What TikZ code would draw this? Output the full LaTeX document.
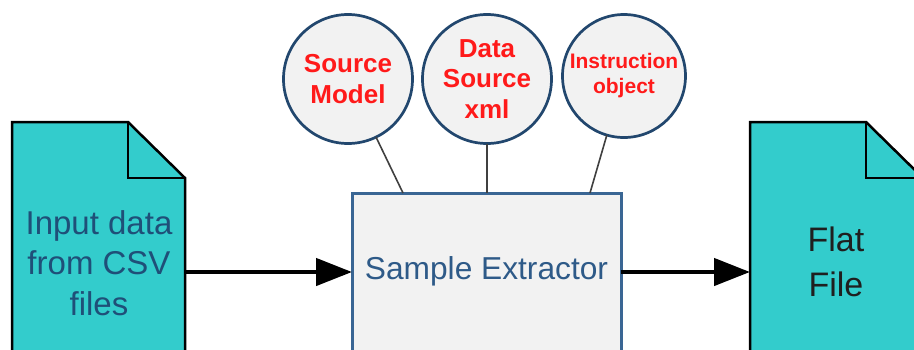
\documentclass[tikz,border=0pt]{standalone}
\usepackage{fontspec}
\setmainfont{Liberation Sans}
\usetikzlibrary{arrows.meta,calc}
\definecolor{docfill}{HTML}{33CCCC}
\definecolor{lightfill}{HTML}{F2F2F2}
\definecolor{circborder}{HTML}{22476E}
\definecolor{boxborder}{HTML}{3A6694}
\definecolor{boxtext}{HTML}{2E5A88}
\definecolor{doctext}{HTML}{1F4F78}
\definecolor{redtext}{HTML}{FF1A1A}
\definecolor{conncol}{HTML}{404040}
\tikzset{
  docshape/.style={fill=docfill, draw=black, line width=2.5pt, line join=miter},
  docarea/.style={inner sep=0pt, outer sep=0pt, anchor=north west},
  srccircle/.style={circle, fill=lightfill, draw=circborder, line width=2.7pt, inner sep=0pt, outer sep=0pt, align=center, text=redtext, font=\bfseries},
  procbox/.style={rectangle, fill=lightfill, draw=boxborder, line width=3pt, inner sep=0pt, outer sep=0pt, anchor=north west},
  conn/.style={draw=conncol, line width=1.6pt},
  flowarrow/.style={draw=black, line width=4.5pt, -{Triangle[length=36pt,width=27pt]}},
}
\begin{document}
\begin{tikzpicture}[x=1pt,y=-1pt]
\clip (0,0) rectangle (914,349);
\fill[white] (0,0) rectangle (914,349);
% invisible areas for documents
\node[docarea, minimum width=173pt, minimum height=250pt] (input) at (12,122) {};
\node[docarea, minimum width=173pt, minimum height=250pt] (flat) at (750,122) {};
% document shapes
\path[docshape] (input.north west) -- ([xshift=-57pt]input.north east) -- ([yshift=-56pt]input.north east) -- (input.south east) -- (input.south west) -- cycle;
\draw[line width=2.5pt, line join=miter] ([xshift=-57pt]input.north east) -- ([xshift=-57pt,yshift=-56pt]input.north east) -- ([yshift=-56pt]input.north east);
\path[docshape] (flat.north west) -- ([xshift=-57pt]flat.north east) -- ([yshift=-56pt]flat.north east) -- (flat.south east) -- (flat.south west) -- cycle;
\draw[line width=2.5pt, line join=miter] ([xshift=-57pt]flat.north east) -- ([xshift=-57pt,yshift=-56pt]flat.north east) -- ([yshift=-56pt]flat.north east);
% texts in documents
\node[align=center, text=doctext, font=\fontsize{33}{40.5}\selectfont] (inputtext) at (99,263) {Input data\\from CSV\\files};
\node[align=center, text=black!88, font=\fontsize{34}{45}\selectfont] (flattext) at (836,262) {Flat\\File};
% process box
\node[procbox, minimum width=269pt, minimum height=200pt] (box) at (352,193) {};
\node[text=boxtext, font=\fontsize{31.7}{36}\selectfont] (sample) at (486.5,271) {Sample Extractor};
% circles
\node[srccircle, minimum size=129pt, font=\bfseries\fontsize{26}{30.5}\selectfont] (c1) at (348,79) {Source\\Model};
\node[srccircle, minimum size=129pt, font=\bfseries\fontsize{26}{30.5}\selectfont] (c2) at (487,79) {Data\\Source\\xml};
\node[srccircle, minimum size=123pt, font=\bfseries\fontsize{21}{25}\selectfont] (c3) at (624,76) {Instruction\\object};
% connectors
\draw[conn] (c1) -- ([xshift=51pt]box.north west);
\draw[conn] (c2) -- (c2 |- box.north);
\draw[conn] (c3) -- ([xshift=-31pt]box.north east);
% arrows
\draw[flowarrow] (input.east |- 0,272) -- (box.west |- 0,272);
\draw[flowarrow] (box.east |- 0,272) -- (flat.west |- 0,272);
\end{tikzpicture}
\end{document}
